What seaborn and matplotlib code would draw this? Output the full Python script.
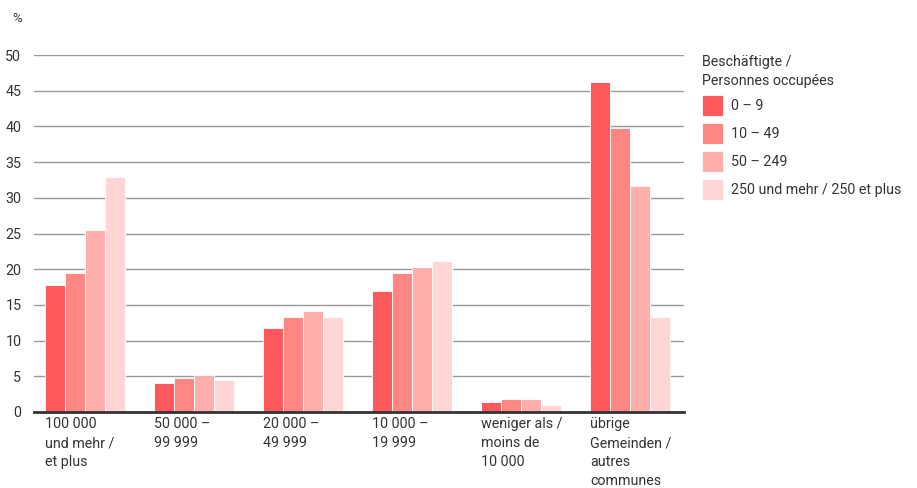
import pandas as pd
import matplotlib
matplotlib.use("Agg")
import matplotlib.pyplot as plt
import seaborn as sns

# categories (municipality size) and employee size classes
categories = ["100 000\nund mehr /\net plus", "50 000 –\n99 999", "20 000 –\n49 999",
              "10 000 –\n19 999", "weniger als /\nmoins de\n10 000",
              "übrige\nGemeinden /\nautres\ncommunes"]
size_classes = ["0 – 9", "10 – 49", "50 – 249", "250 und mehr / 250 et plus"]

vals_0_9 = [17.8, 4.0, 11.7, 17.0, 1.4, 46.3]
vals_10_49 = [19.5, 4.8, 13.3, 19.4, 1.8, 39.8]
vals_50_249 = [25.5, 5.2, 14.1, 20.3, 1.8, 31.6]
vals_250 = [32.9, 4.4, 13.3, 21.1, 1.0, 13.3]

colors = ["#fe5a5e", "#fe8783", "#feafac", "#ffd6d5"]

rows = []
for cls, vals in zip(size_classes, [vals_0_9, vals_10_49, vals_50_249, vals_250]):
    for cat, v in zip(categories, vals):
        rows.append({"Gemeinde": cat, "Klasse": cls, "Wert": v})
df = pd.DataFrame(rows)

sns.set_style("white")
plt.rcParams['font.family'] = ['Roboto', 'DejaVu Sans']
txt = "#333333"
fs = 10.3

fig = plt.figure(figsize=(9.17, 4.88), dpi=100)
ax = fig.add_axes([0.037, 0.156, 0.709, 0.731])

width = 0.734
sns.barplot(data=df, x="Gemeinde", y="Wert", hue="Klasse", order=categories,
            hue_order=size_classes, palette=colors, saturation=1, width=width, gap=0,
            edgecolor="white", linewidth=0.6, ax=ax, zorder=3)

ax.set_ylim(0, 50)
ax.set_xlim(-0.468, 5.495)
ax.set_yticks(range(0, 51, 5))
ax.grid(axis="y", color="#9a9a9a", linewidth=1.0, zorder=0)
ax.set_axisbelow(True)
for s in ["left", "right", "top"]:
    ax.spines[s].set_visible(False)
ax.spines["bottom"].set_color("#333333")
ax.spines["bottom"].set_linewidth(2)
ax.spines["bottom"].set_zorder(5)

# labels left-aligned at group start
ax.set_xticks([i - width / 2 for i in range(len(categories))])
ax.set_xticklabels(categories, ha="left", va="top", linespacing=1.45)
ax.tick_params(axis="x", length=0, pad=4, labelsize=fs, colors=txt)
ax.tick_params(axis="y", length=0, pad=9, labelsize=fs, colors=txt)
ax.set_xlabel("")
ax.set_ylabel("")

fig.text(0.013, 0.962, "%", fontsize=9.5, color=txt, va="center")

handles, labels = ax.get_legend_handles_labels()
leg = ax.legend(handles, labels, title="Beschäftigte /\nPersonnes occupées",
                loc="upper left", bbox_to_anchor=(0.766, 0.888),
                bbox_transform=fig.transFigure, frameon=False, fontsize=fs,
                title_fontsize=fs, handlelength=1.47, handleheight=1.88,
                handletextpad=0.55, labelspacing=0.5, borderaxespad=0,
                borderpad=0, alignment="left")
for t in leg.get_texts():
    t.set_color(txt)
leg.get_title().set_color(txt)
leg.get_title().set_linespacing(1.45)

fig.savefig("out.png", dpi=100)
